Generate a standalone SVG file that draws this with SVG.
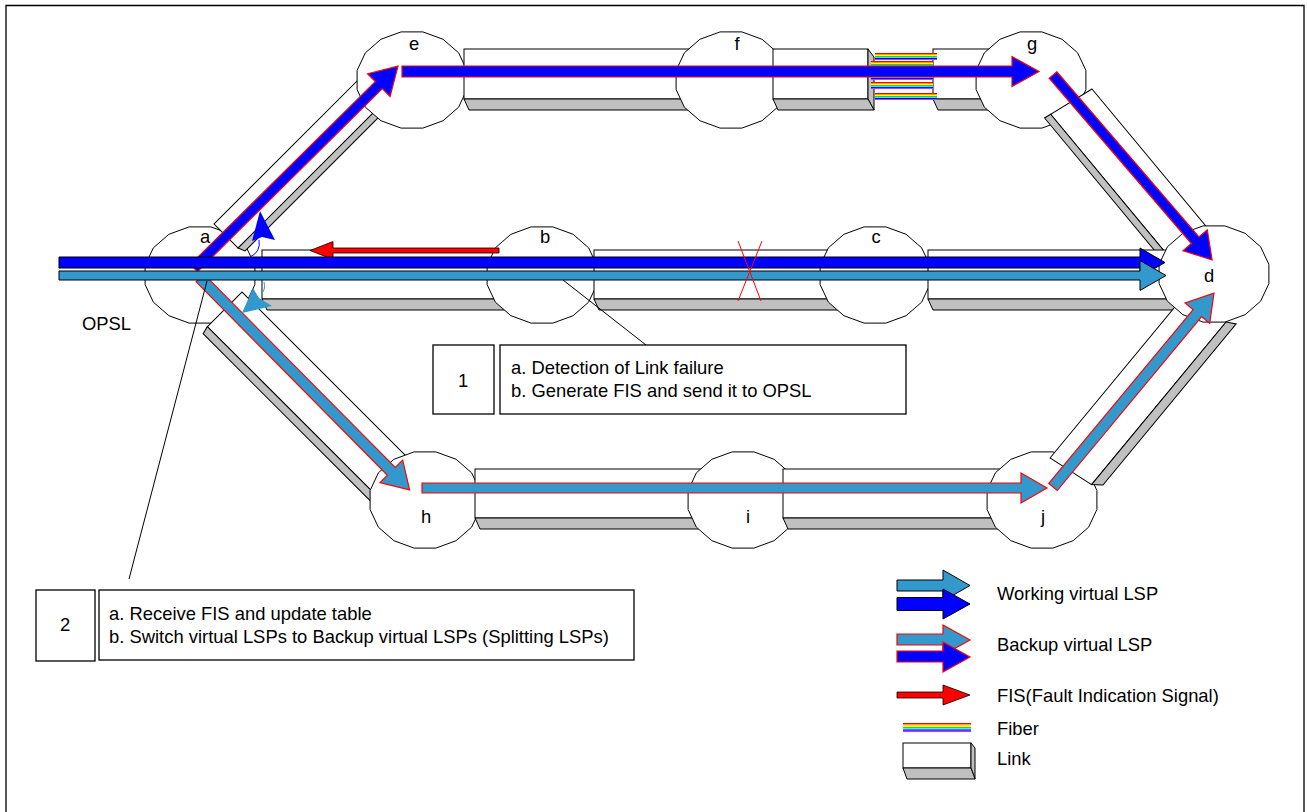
<svg xmlns="http://www.w3.org/2000/svg" width="1307" height="812" viewBox="0 0 1307 812">
<defs>
<style>
.lnk{fill:#fff;stroke:#000;stroke-width:1}
.sh{fill:#c0c0c0;stroke:#000;stroke-width:1}
.nd{fill:#fff;stroke:#000;stroke-width:1}
.t{font-family:"Liberation Sans",Arial,sans-serif;font-size:18.4px;fill:#000}
.wb{fill:#0000ff;stroke:#000;stroke-width:1}
.wt{fill:#3399cc;stroke:#000;stroke-width:1}
.bb{fill:#0000ff;stroke:#ff0000;stroke-width:1.2}
.bt{fill:#3399cc;stroke:#ff0000;stroke-width:1.2}
.fis{fill:#ff0000;stroke:#000;stroke-width:0.8}
.box{fill:#fff;stroke:#000;stroke-width:1.3}
.ln{fill:none;stroke:#000;stroke-width:1}
</style>
<g id="fb">
<rect x="0" y="0" width="62" height="1" fill="#ff0000"/>
<rect x="0" y="1" width="62" height="1" fill="#ff9900"/>
<rect x="0" y="2" width="62" height="1" fill="#ffff00"/>
<rect x="0" y="3" width="62" height="1" fill="#33cc33"/>
<rect x="0" y="4" width="62" height="1" fill="#00ffff"/>
<rect x="0" y="5" width="62" height="1" fill="#0000ff"/>
<rect x="0" y="6" width="62" height="1" fill="#cc33ff"/>
</g>
<polygon id="nd" class="nd" points="54.9,9.6 46.6,27.2 31.1,40.7 10.9,48.1 -10.9,48.1 -31.1,40.7 -46.6,27.2 -54.9,9.6 -54.9,-9.6 -46.6,-27.2 -31.1,-40.7 -10.9,-48.1 10.9,-48.1 31.1,-40.7 46.6,-27.2 54.9,-9.6"/>
</defs>
<rect width="1307" height="812" fill="#fff"/>
<path d="M6,813 V5.5 H1304 V813" fill="none" stroke="#000" stroke-width="1.3"/>

<g id="node-a"><use href="#nd" x="200" y="275"/><text class="t" x="205" y="243" text-anchor="middle">a</text></g>

<g id="links-a">
<g id="link-a-e" transform="translate(214,224) rotate(-45)">
<polygon class="lnk" points="0,0 212,0 212,34 0,34"/>
<polygon class="sh" points="0,34 212,34 215,41 3,41"/>
</g>
<g id="link-a-b">
<rect class="lnk" x="262" y="250" width="258" height="49"/>
<polygon class="sh" points="262,299 520,299 525,310 267,310"/>
</g>
<g id="link-a-h" transform="translate(242,292) rotate(45)">
<polygon class="lnk" points="0,0 245,0 245,49 0,49"/>
<polygon class="sh" points="0,49 245,49 247,57 2,57"/>
</g>
</g>

<g id="node-e"><use href="#nd" x="412" y="80"/><text class="t" x="414" y="50" text-anchor="middle">e</text></g>
<g id="link-e-f">
<rect class="lnk" x="464" y="49" width="251" height="50"/>
<polygon class="sh" points="464,99 715,99 720,110 469,110"/>
</g>
<g id="node-f"><use href="#nd" x="731" y="80"/><text class="t" x="737" y="50" text-anchor="middle">f</text></g>
<g id="link-f-g">
<rect class="lnk" x="773" y="49" width="95" height="50"/>
<polygon class="sh" points="868,49 874,57 874,110 868,99"/>
<polygon class="sh" points="773,99 868,99 874,110 778,110"/>
<rect class="lnk" x="933" y="49" width="77" height="50"/>
<polygon class="sh" points="933,99 1010,99 1015,110 938,110"/>
<g id="fibers">
<use href="#fb" x="875" y="53"/>
<use href="#fb" x="871" y="61"/>
<use href="#fb" x="871" y="73"/>
<use href="#fb" x="871" y="82"/>
<use href="#fb" x="875" y="93"/>
</g>
</g>
<g id="node-g"><use href="#nd" x="1031" y="80"/><text class="t" x="1032" y="50" text-anchor="middle">g</text></g>
<g id="link-g-d" transform="translate(1092,89) rotate(50.3)">
<polygon class="lnk" points="0,0 195,0 195,48 -7,48"/>
<polygon class="sh" points="-7,48 195,48 195,55 -8,55"/>
</g>

<g id="node-b"><use href="#nd" x="542" y="275"/><text class="t" x="545" y="243" text-anchor="middle">b</text></g>
<g id="link-b-c">
<rect class="lnk" x="594" y="250" width="256" height="49"/>
<polygon class="sh" points="594,299 850,299 855,310 599,310"/>
</g>
<g id="node-c"><use href="#nd" x="875" y="275"/><text class="t" x="876" y="243" text-anchor="middle">c</text></g>
<g id="link-c-d">
<rect class="lnk" x="928" y="250" width="267" height="49"/>
<polygon class="sh" points="928,299 1195,299 1200,310 933,310"/>
</g>

<g id="node-h"><use href="#nd" x="425" y="500"/><text class="t" x="426" y="523" text-anchor="middle">h</text></g>
<g id="link-h-i">
<rect class="lnk" x="475" y="469" width="245" height="49"/>
<polygon class="sh" points="475,518 720,518 725,529 480,529"/>
</g>
<g id="node-i"><use href="#nd" x="743" y="500"/><text class="t" x="748" y="523" text-anchor="middle">i</text></g>
<g id="link-i-j">
<rect class="lnk" x="783" y="469" width="237" height="49"/>
<polygon class="sh" points="783,518 1020,518 1025,529 788,529"/>
</g>
<g id="node-j"><use href="#nd" x="1042" y="500"/><text class="t" x="1043" y="523" text-anchor="middle">j</text></g>
<g id="link-j-d" transform="translate(1050,458) rotate(-50.4)">
<polygon class="lnk" points="0,0 217,0 217,49 6,49"/>
<polygon class="sh" points="6,49 217,49 222,58 13,58"/>
</g>
<g id="node-d"><use href="#nd" x="1214" y="274"/><text class="t" x="1209" y="282" text-anchor="middle">d</text></g>

<g id="connectors">
<polygon class="bb" transform="translate(194,268) rotate(-44.7)" points="0,-5 260,-5 260,-16 287,0 260,16 260,5 0,5"/>
<polygon class="bb" points="402,66 1012,66 1012,56.5 1039,71.5 1012,86.5 1012,77 402,77"/>
<polygon class="bb" transform="translate(1053,75) rotate(49.3)" points="0,-5 218,-5 218,-16 244,0 218,16 218,5 0,5"/>
<polygon class="bt" transform="translate(200,278) rotate(45.3)" points="0,-5.5 272,-5.5 272,-16 298,0 272,16 272,5.5 0,5.5"/>
<polygon class="bt" points="422,483 1021,483 1021,473 1047,488 1021,503 1021,493 422,493"/>
<polygon class="bt" transform="translate(1053,487) rotate(-50.3)" points="0,-5.5 226,-5.5 226,-16 252,0 226,16 226,5.5 0,5.5"/>
<polygon class="fis" points="499,248 333,248 333,241.5 310,250.5 333,259.5 333,253 499,253"/>
<polygon class="wb" points="59,257 1140,257 1140,248 1165,262.5 1140,277 1140,268 59,268"/>
<polygon class="wt" points="59,271 1140,271 1140,260.5 1166,275.5 1140,290.5 1140,280 59,280"/>
<path d="M250,257 Q261,252 259,240" fill="none" stroke="#0000ff" stroke-width="1"/>
<polygon points="260,211 275,240 262,237 252,241" fill="#0000ff"/>
<path d="M264,282 Q266,290 261,294" fill="none" stroke="#3399cc" stroke-width="1"/>
<polygon points="242,313 253,288 259,298 272,306" fill="#3399cc"/>
<line x1="738" y1="241" x2="761" y2="301" stroke="#ff0000" stroke-width="1"/>
<line x1="762" y1="241" x2="738" y2="301" stroke="#ff0000" stroke-width="1"/>
<line class="ln" x1="563" y1="280" x2="646" y2="345"/>
<line class="ln" x1="207" y1="281" x2="129" y2="579"/>
</g>

<text class="t" x="82" y="330">OPSL</text>

<g id="callout-1">
<rect class="box" x="433" y="345" width="61" height="69"/>
<text class="t" x="463" y="387" text-anchor="middle">1</text>
<rect class="box" x="500" y="345" width="406" height="69"/>
<text class="t" x="511" y="374">a. Detection of Link failure</text>
<text class="t" x="511" y="397">b. Generate FIS and send it to OPSL</text>
</g>
<g id="callout-2">
<rect class="box" x="36" y="590" width="59" height="71"/>
<text class="t" x="65" y="631" text-anchor="middle">2</text>
<rect class="box" x="99" y="590" width="535" height="70"/>
<text class="t" x="109" y="620">a. Receive FIS and update table</text>
<text class="t" x="109" y="643">b. Switch virtual LSPs to Backup virtual LSPs (Splitting LSPs)</text>
</g>

<g id="legend">
<polygon class="wt" points="897,580 943,580 943,570 970,585.5 943,601 943,591 897,591"/>
<polygon class="wb" points="897,597.5 943,597.5 943,589 970,604 943,619 943,610.5 897,610.5"/>
<text class="t" x="997" y="600">Working virtual LSP</text>
<polygon class="bt" points="897,634 943,634 943,625 970,640 943,655 943,645 897,645"/>
<polygon class="bb" points="897,651 943,651 943,642 970,657 943,672 943,662 897,662"/>
<text class="t" x="997" y="651">Backup virtual LSP</text>
<polygon class="fis" points="897,692 943,692 943,685 970,695 943,705 943,698 897,698"/>
<text class="t" x="997" y="702">FIS(Fault Indication Signal)</text>
<g transform="translate(903,723) scale(1.097,1.3)"><use href="#fb"/></g>
<text class="t" x="997" y="735">Fiber</text>
<rect class="lnk" x="903" y="743" width="68" height="25"/>
<polygon class="sh" points="971,743 975,748 975,779 971,768"/>
<polygon class="sh" points="903,768 971,768 975,779 907,779"/>
<text class="t" x="997" y="765">Link</text>
</g>
</svg>
